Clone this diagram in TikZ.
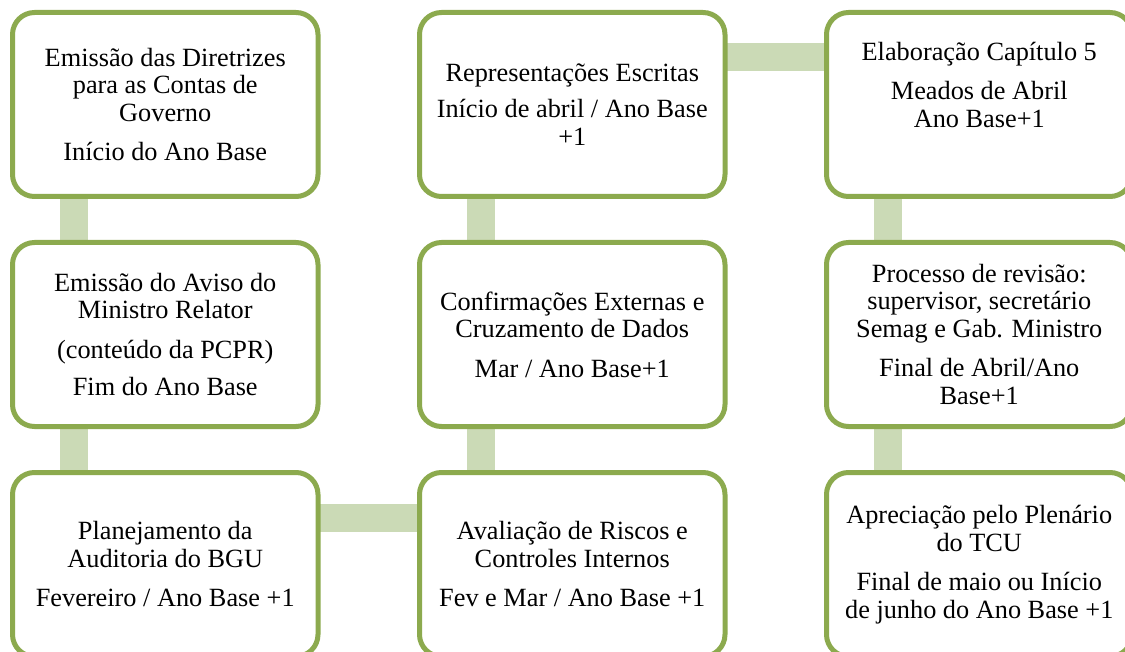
\documentclass[tikz,border=0pt]{standalone}
\usepackage{fontspec}
\setmainfont{Liberation Serif}
\usetikzlibrary{backgrounds}
\definecolor{boxgreen}{RGB}{140,170,78}
\definecolor{linkgreen}{RGB}{203,218,182}
\tikzset{
  stage/.style={draw=boxgreen, line width=5pt, fill=white, rounded corners=22pt,
    minimum width=305.5pt, minimum height=184pt, inner sep=0pt, outer sep=0pt,
    align=center, font=\fontsize{26.3}{27.5}\selectfont},
  link/.style={draw=linkgreen, line width=28pt},
}
\begin{document}
\begin{tikzpicture}[x=1pt, y=-1pt]
\useasboundingbox (0,0) rectangle (1125,652);

% first column
\node[stage] (b11) at (165.25,104.5) {Emissão das Diretrizes\\para as Contas de\\Governo\\[12pt]Início do Ano Base};
\node[stage] (b21) at (165.25,334.5) {Emissão do Aviso do\\Ministro Relator\\[12pt](conteúdo da PCPR)\\[10pt]Fim do Ano Base};
\node[stage] (b31) at (165.25,564.5) {Planejamento da\\Auditoria do BGU\\[12pt]Fevereiro / Ano Base +1};

% second column
\node[stage] (b12) at (572.25,104.5) {Representações Escritas\\[9pt]Início de abril / Ano Base\\+1};
\node[stage] (b22) at (572.25,334.5) {Confirmações Externas e\\Cruzamento de Dados\\[12pt]Mar / Ano Base+1};
\node[stage] (b32) at (572.25,564.5) {Avaliação de Riscos e\\Controles Internos\\[12pt]Fev e Mar / Ano Base +1};

% third column
\node[stage] (b13) at (979.25,104.5) {Elaboração Capítulo 5\\[12pt]Meados de Abril\\Ano Base+1\\[12pt]~};
\node[stage] (b23) at (979.25,334.5) {Processo de revisão:\\supervisor, secretário\\Semag e Gab. Ministro\\[12pt]Final de Abril/Ano\\Base+1};
\node[stage] (b33) at (979.25,564.5) {Apreciação pelo Plenário\\do TCU\\[12pt]Final de maio ou Início\\de junho do Ano Base +1};

% connecting bars behind the boxes
\begin{pgfonlayer}{background}
\draw[link] ([xshift=-91pt]b11.south) -- ([xshift=-91pt]b21.north);
\draw[link] ([xshift=-91pt]b21.south) -- ([xshift=-91pt]b31.north);
\draw[link] ([yshift=47pt]b31.east) -- ([yshift=47pt]b32.west);
\draw[link] ([xshift=-91pt]b32.north) -- ([xshift=-91pt]b22.south);
\draw[link] ([xshift=-91pt]b22.north) -- ([xshift=-91pt]b12.south);
\draw[link] ([yshift=47pt]b12.east) -- ([yshift=47pt]b13.west);
\draw[link] ([xshift=-91pt]b13.south) -- ([xshift=-91pt]b23.north);
\draw[link] ([xshift=-91pt]b23.south) -- ([xshift=-91pt]b33.north);
\end{pgfonlayer}
\end{tikzpicture}
\end{document}
